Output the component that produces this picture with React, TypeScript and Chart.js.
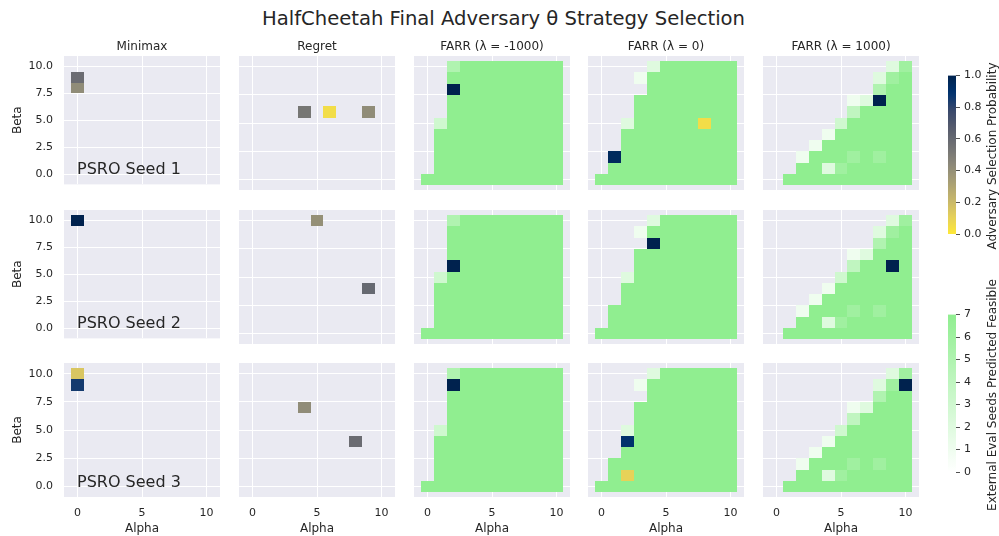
import React, { useEffect, useRef } from "react";
import { Chart, registerables } from "chart.js";
Chart.register(...registerables);

const FONT = "'DejaVu Sans', 'Liberation Sans', sans-serif";
const TEXT = "#262626";
const PANEL_BG = "#EAEAF2";

const SUPTITLE = "HalfCheetah Final Adversary θ Strategy Selection";
const COLUMN_TITLES = ["Minimax", "Regret", "FARR (λ = -1000)", "FARR (λ = 0)", "FARR (λ = 1000)"];
const ROW_LABELS = ["PSRO Seed 1", "PSRO Seed 2", "PSRO Seed 3"];
const ALPHA_VALUES = [0, 1, 2, 3, 4, 5, 6, 7, 8, 9, 10];
const BETA_VALUES = [0, 1, 2, 3, 4, 5, 6, 7, 8, 9, 10];
const X_TICKS = [0, 5, 10];
const Y_TICKS = [0, 2.5, 5, 7.5, 10];
const PROB_TICKS = [0, 0.2, 0.4, 0.6, 0.8, 1.0];
const FEAS_TICKS = [0, 1, 2, 3, 4, 5, 6, 7];
const PROB_LABEL = "Adversary Selection Probability";
const FEAS_LABEL = "External Eval Seeds Predicted Feasible";

// Seeds (of 7) predicted feasible; rows from beta = 10 (top) down to beta = 0, columns alpha 0..10
const FEASIBLE_LAMBDA_NEG1000 = [
  [0, 0, 5, 7, 7, 7, 7, 7, 7, 7, 7],
  [0, 0, 7, 7, 7, 7, 7, 7, 7, 7, 7],
  [0, 0, 7, 7, 7, 7, 7, 7, 7, 7, 7],
  [0, 0, 7, 7, 7, 7, 7, 7, 7, 7, 7],
  [0, 0, 7, 7, 7, 7, 7, 7, 7, 7, 7],
  [0, 3, 7, 7, 7, 7, 7, 7, 7, 7, 7],
  [0, 7, 7, 7, 7, 7, 7, 7, 7, 7, 7],
  [0, 7, 7, 7, 7, 7, 7, 7, 7, 7, 7],
  [0, 7, 7, 7, 7, 7, 7, 7, 7, 7, 7],
  [0, 7, 7, 7, 7, 7, 7, 7, 7, 7, 7],
  [7, 7, 7, 7, 7, 7, 7, 7, 7, 7, 7],
];
const FEASIBLE_LAMBDA_0 = [
  [0, 0, 0, 0, 2, 7, 7, 7, 7, 7, 7],
  [0, 0, 0, 1, 7, 7, 7, 7, 7, 7, 7],
  [0, 0, 0, 0, 7, 7, 7, 7, 7, 7, 7],
  [0, 0, 0, 7, 7, 7, 7, 7, 7, 7, 7],
  [0, 0, 0, 7, 7, 7, 7, 7, 7, 7, 7],
  [0, 0, 2, 7, 7, 7, 7, 7, 7, 7, 7],
  [0, 0, 7, 7, 7, 7, 7, 7, 7, 7, 7],
  [0, 0, 7, 7, 7, 7, 7, 7, 7, 7, 7],
  [0, 7, 7, 7, 7, 7, 7, 7, 7, 7, 7],
  [0, 7, 7, 7, 7, 7, 7, 7, 7, 7, 7],
  [7, 7, 7, 7, 7, 7, 7, 7, 7, 7, 7],
];
const FEASIBLE_LAMBDA_1000 = [
  [0, 0, 0, 0, 0, 0, 0, 0, 0, 2, 6],
  [0, 0, 0, 0, 0, 0, 0, 0, 2, 6, 7],
  [0, 0, 0, 0, 0, 0, 0, 0, 5, 7, 7],
  [0, 0, 0, 0, 0, 0, 1, 2, 7, 7, 7],
  [0, 0, 0, 0, 0, 0, 4, 7, 7, 7, 7],
  [0, 0, 0, 0, 0, 3, 7, 7, 7, 7, 7],
  [0, 0, 0, 0, 1, 7, 7, 7, 7, 7, 7],
  [0, 0, 0, 1, 7, 7, 7, 7, 7, 7, 7],
  [0, 0, 1, 7, 7, 7, 6, 7, 6, 7, 7],
  [0, 0, 7, 7, 2, 6, 7, 7, 7, 7, 7],
  [0, 7, 7, 7, 7, 7, 7, 7, 7, 7, 7],
];

// Adversary selections: [alpha, beta, probability]
const MINIMAX_SEED1 = [[0, 9, 0.58], [0, 8, 0.42]];
const REGRET_SEED1 = [[4, 6, 0.53], [6, 6, 0.05], [9, 6, 0.42]];
const FARR_NEG1000_SEED1 = [[2, 8, 1.0]];
const FARR_0_SEED1 = [[1, 2, 0.95], [8, 5, 0.05]];
const FARR_1000_SEED1 = [[8, 7, 1.0]];

const MINIMAX_SEED2 = [[0, 10, 1.0]];
const REGRET_SEED2 = [[5, 10, 0.4], [9, 4, 0.6]];
const FARR_NEG1000_SEED2 = [[2, 6, 1.0]];
const FARR_0_SEED2 = [[4, 8, 1.0]];
const FARR_1000_SEED2 = [[9, 6, 1.0]];

const MINIMAX_SEED3 = [[0, 10, 0.15], [0, 9, 0.85]];
const REGRET_SEED3 = [[4, 7, 0.42], [8, 4, 0.58]];
const FARR_NEG1000_SEED3 = [[2, 9, 1.0]];
const FARR_0_SEED3 = [[2, 4, 0.9], [2, 1, 0.1]];
const FARR_1000_SEED3 = [[10, 9, 1.0]];

const SELECTIONS = [
  [MINIMAX_SEED1, REGRET_SEED1, FARR_NEG1000_SEED1, FARR_0_SEED1, FARR_1000_SEED1],
  [MINIMAX_SEED2, REGRET_SEED2, FARR_NEG1000_SEED2, FARR_0_SEED2, FARR_1000_SEED2],
  [MINIMAX_SEED3, REGRET_SEED3, FARR_NEG1000_SEED3, FARR_0_SEED3, FARR_1000_SEED3],
];
const FEASIBLE_BY_COLUMN = [null, null, FEASIBLE_LAMBDA_NEG1000, FEASIBLE_LAMBDA_0, FEASIBLE_LAMBDA_1000];

// colormaps
const CIVIDIS = ["#00224e", "#00336f", "#39486b", "#575c6d", "#707173", "#8a8779", "#a69d75", "#c4b56c", "#e4cf5b", "#fee838"];
const GREEN_LOW = [255, 255, 255];
const GREEN_HIGH = [144, 238, 144];

function hexToRgb(h: string): number[] {
  return [parseInt(h.slice(1, 3), 16), parseInt(h.slice(3, 5), 16), parseInt(h.slice(5, 7), 16)];
}
function cividis(t: number): string {
  const tt = Math.max(0, Math.min(1, t)) * (CIVIDIS.length - 1);
  const i = Math.min(CIVIDIS.length - 2, Math.floor(tt));
  const f = tt - i;
  const a = hexToRgb(CIVIDIS[i]);
  const b = hexToRgb(CIVIDIS[i + 1]);
  const c = a.map((v, k) => Math.round(v + (b[k] - v) * f));
  return `rgb(${c[0]},${c[1]},${c[2]})`;
}
function probColor(p: number): string {
  return cividis(1 - p);
}
function greenColor(n: number): string {
  const f = n / 7;
  const c = GREEN_LOW.map((v, k) => Math.round(v + (GREEN_HIGH[k] - v) * f));
  return `rgb(${c[0]},${c[1]},${c[2]})`;
}

const COL_LEFT = [64, 239, 414, 588, 763];
const ROW_TOP = [56, 210, 363];
const PW = 156;
const PH = 134;
const PAD_L = 56;
const PAD_T = 30;
const PAD_R = 4;
const X_MIN = -1.05;
const X_MAX = 11.05;
const Y_MIN = -0.92;
const Y_MAX = 10.95;

const heatPlugin = {
  id: "heat",
  beforeDraw(chart: any) {
    const { ctx, chartArea: a } = chart;
    ctx.save();
    ctx.fillStyle = PANEL_BG;
    ctx.fillRect(a.left, a.top, a.width, a.height);
    ctx.restore();
  },
  beforeDatasetsDraw(chart: any) {
    const { ctx } = chart;
    const xs = chart.scales.x;
    const ys = chart.scales.y;
    ctx.save();
    chart.data.datasets.forEach((ds: any) => {
      ds.data.forEach((p: any) => {
        const x0 = Math.round(xs.getPixelForValue(p.x - 0.5));
        const x1 = Math.round(xs.getPixelForValue(p.x + 0.5));
        const y0 = Math.round(ys.getPixelForValue(p.y + 0.5));
        const y1 = Math.round(ys.getPixelForValue(p.y - 0.5));
        ctx.fillStyle = ds.label === "feasible" ? greenColor(p.v) : probColor(p.v);
        ctx.fillRect(x0, y0, x1 - x0, y1 - y0);
      });
    });
    ctx.restore();
  },
  afterDraw(chart: any, _args: any, opts: any) {
    const { ctx, chartArea: a } = chart;
    ctx.save();
    ctx.fillStyle = TEXT;
    if (opts.title) {
      ctx.font = `12px ${FONT}`;
      ctx.textAlign = "center";
      ctx.textBaseline = "alphabetic";
      ctx.fillText(opts.title, (a.left + a.right) / 2, a.top - 6.5);
    }
    if (opts.rowLabel) {
      ctx.font = `16px ${FONT}`;
      ctx.textAlign = "left";
      ctx.textBaseline = "alphabetic";
      ctx.fillText(opts.rowLabel, a.left + 13, a.bottom - 10.5);
    }
    ctx.restore();
  },
};

function Panel({ r, c }: { r: number; c: number }) {
  const ref = useRef<HTMLCanvasElement | null>(null);
  const isBottom = r === 2;
  const isLeft = c === 0;
  const padB = isBottom ? 536 - (ROW_TOP[r] + PH) : 12;
  const width = PAD_L + PW + PAD_R;
  const height = PAD_T + PH + padB;
  useEffect(() => {
    const feas = FEASIBLE_BY_COLUMN[c];
    const feasCells: any[] = [];
    if (feas) {
      feas.forEach((row, i) => {
        row.forEach((n, j) => {
          if (n > 0) feasCells.push({ x: ALPHA_VALUES[j], y: BETA_VALUES[BETA_VALUES.length - 1 - i], v: n });
        });
      });
    }
    const selCells = SELECTIONS[r][c].map(([x, y, v]) => ({ x, y, v }));
    const chart = new Chart(ref.current as HTMLCanvasElement, {
      type: "scatter",
      data: {
        datasets: [
          { label: "feasible", data: feasCells, pointRadius: 0 } as any,
          { label: "selection", data: selCells, pointRadius: 0 } as any,
        ],
      },
      options: {
        animation: false,
        responsive: false,
        events: [],
        layout: { padding: { top: PAD_T, right: PAD_R, left: 0, bottom: 0 } },
        plugins: {
          legend: { display: false },
          tooltip: { enabled: false },
          heat: { title: r === 0 ? COLUMN_TITLES[c] : "", rowLabel: c === 0 ? ROW_LABELS[r] : "" },
        } as any,
        scales: {
          x: {
            type: "linear",
            min: X_MIN,
            max: X_MAX,
            bounds: "data",
            afterBuildTicks: (s: any) => {
              s.ticks = X_TICKS.map((value) => ({ value }));
            },
            afterFit: (s: any) => {
              s.height = padB;
            },
            grid: { color: "#ffffff", lineWidth: 1, drawTicks: false },
            border: { display: false },
            ticks: {
              display: isBottom,
              padding: 10,
              maxRotation: 0,
              autoSkip: false,
              font: { family: FONT, size: 11 },
              color: TEXT,
              callback: (v: any) => String(v),
            },
            title: {
              display: isBottom,
              text: "Alpha",
              font: { family: FONT, size: 12 },
              color: TEXT,
              padding: { top: 0, bottom: 0 },
            },
          },
          y: {
            type: "linear",
            min: Y_MIN,
            max: Y_MAX,
            bounds: "data",
            afterBuildTicks: (s: any) => {
              s.ticks = Y_TICKS.map((value) => ({ value }));
            },
            afterFit: (s: any) => {
              s.width = PAD_L;
            },
            grid: { color: "#ffffff", lineWidth: 1, drawTicks: false },
            border: { display: false },
            ticks: {
              display: isLeft,
              padding: 11,
              autoSkip: false,
              font: { family: FONT, size: 11 },
              color: TEXT,
              callback: (v: any) => Number(v).toFixed(1),
            },
            title: {
              display: isLeft,
              text: "Beta",
              font: { family: FONT, size: 12 },
              color: TEXT,
              padding: { top: 2.5, bottom: 0 },
            },
          },
        } as any,
      },
      plugins: [heatPlugin as any],
    });
    return () => chart.destroy();
  }, [r, c]);
  return (
    <canvas
      ref={ref}
      width={width}
      height={height}
      style={{ position: "absolute", left: COL_LEFT[c] - PAD_L, top: ROW_TOP[r] - PAD_T, width, height }}
    />
  );
}

const gradientPlugin = {
  id: "cbgrad",
  beforeDatasetsDraw(chart: any, _a: any, opts: any) {
    const { ctx, chartArea: a } = chart;
    const g = ctx.createLinearGradient(0, a.bottom, 0, a.top);
    const N = 40;
    for (let i = 0; i <= N; i++) {
      const t = i / N;
      g.addColorStop(t, opts.kind === "prob" ? probColor(t) : greenColor(t * 7));
    }
    ctx.save();
    ctx.fillStyle = g;
    ctx.fillRect(a.left, a.top, a.width, a.height);
    ctx.restore();
  },
};

function Colorbar({ top, kind }: { top: number; kind: "prob" | "feas" }) {
  const ref = useRef<HTMLCanvasElement | null>(null);
  const W = 50;
  const H = 180;
  useEffect(() => {
    const ticks = kind === "prob" ? PROB_TICKS : FEAS_TICKS;
    const max = kind === "prob" ? 1 : 7;
    const chart = new Chart(ref.current as HTMLCanvasElement, {
      type: "scatter",
      data: { datasets: [{ data: [], pointRadius: 0 } as any] },
      options: {
        animation: false,
        responsive: false,
        events: [],
        layout: { padding: { left: 8, top: 10, bottom: kind === "prob" ? 11 : 12, right: 0 } },
        plugins: { legend: { display: false }, tooltip: { enabled: false }, cbgrad: { kind } } as any,
        scales: {
          x: { type: "linear", display: false, min: 0, max: 1 },
          y: {
            type: "linear",
            position: "right",
            min: 0,
            max,
            bounds: "data",
            afterBuildTicks: (s: any) => {
              s.ticks = ticks.map((value) => ({ value }));
            },
            afterFit: (s: any) => {
              s.width = W - 16;
            },
            grid: { drawOnChartArea: false, drawTicks: true, tickLength: 4, tickColor: TEXT, lineWidth: 0.8 },
            border: { display: false },
            ticks: {
              padding: 4,
              autoSkip: false,
              font: { family: FONT, size: 11 },
              color: TEXT,
              callback: (v: any) => (kind === "prob" ? Number(v).toFixed(1) : String(v)),
            },
          },
        } as any,
      },
      plugins: [gradientPlugin as any],
    });
    return () => chart.destroy();
  }, [kind]);
  return <canvas ref={ref} width={W} height={H} style={{ position: "absolute", left: 940, top, width: W, height: H }} />;
}

function VLabel({ text, cx, cy }: { text: string; cx: number; cy: number }) {
  return (
    <div
      style={{
        position: "absolute",
        left: cx,
        top: cy,
        transform: "translate(-50%, -50%) rotate(-90deg)",
        whiteSpace: "nowrap",
        fontSize: 12,
        lineHeight: "12px",
        color: TEXT,
        fontFamily: FONT,
      }}
    >
      {text}
    </div>
  );
}

export default function App() {
  const panels: any[] = [];
  for (let r = 0; r < 3; r++) for (let c = 0; c < 5; c++) panels.push(<Panel key={`${r}-${c}`} r={r} c={c} />);
  return (
    <div
      style={{
        position: "absolute",
        left: 0,
        top: 0,
        width: 999,
        height: 536,
        overflow: "hidden",
        background: "#ffffff",
        fontFamily: FONT,
      }}
    >
      <div
        style={{
          position: "absolute",
          left: 4,
          top: 9,
          width: 999,
          textAlign: "center",
          fontSize: 19.6,
          lineHeight: "20px",
          color: TEXT,
          whiteSpace: "nowrap",
        }}
      >
        {SUPTITLE}
      </div>
      {panels}
      <Colorbar top={65} kind="prob" />
      <Colorbar top={304} kind="feas" />
      <VLabel text={PROB_LABEL} cx={992.3} cy={156} />
      <VLabel text={FEAS_LABEL} cx={992.3} cy={395} />
    </div>
  );
}
